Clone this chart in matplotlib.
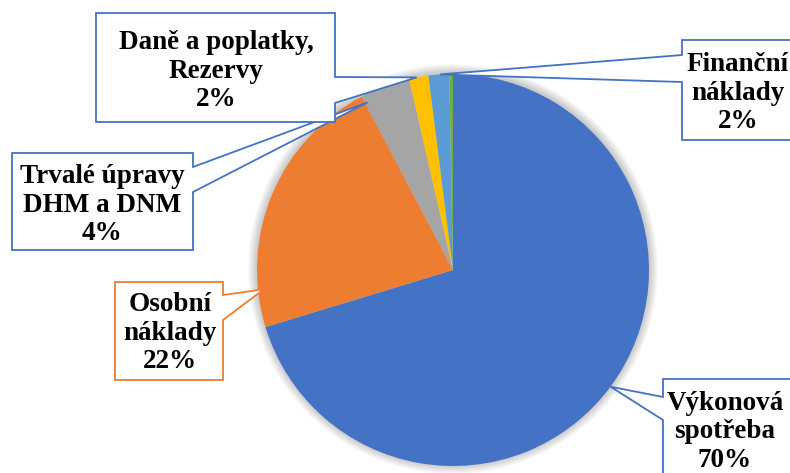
import numpy as np
import matplotlib.pyplot as plt
from matplotlib.patches import Polygon, Circle

# slice data (clockwise from 12 o'clock)
categories = ['Výkonová\nspotřeba', 'Osobní\nnáklady', 'Trvalé úpravy\nDHM a DNM',
              'Daně a poplatky,\nRezervy', 'Finanční\nnáklady', 'Ostatní']
values = [70.3, 22.0, 4.1, 1.6, 1.7, 0.3]
colors = ['#4472C4', '#ED7D31', '#A5A5A5', '#FFC000', '#5B9BD5', '#70AD47']

W, H = 790, 473
cx, cy, R = 453, 270, 196  # pie centre / radius in pixels (top-left origin)


def fy(y):
    return H - y


fig = plt.figure(figsize=(W / 100, H / 100), dpi=100)
ax = fig.add_axes([0, 0, 1, 1])

# soft shadow around the pie
for k in range(1, 10):
    ax.add_patch(Circle((cx, fy(cy) + 1), R + k, facecolor='black',
                        alpha=0.025, edgecolor='none', zorder=0))

wedges, _ = ax.pie(values, colors=colors, startangle=90, counterclock=False,
                   radius=R, center=(cx, fy(cy)), frame=True,
                   wedgeprops=dict(linewidth=0, zorder=1))

# callouts: box (x0, y0, x1, y1), side of pointer, pointer base (ya, yb),
# position along slice (fraction), radius factor, text centre, edge colour
callouts = [
    (0, (663, 379, 800, 480), 'left', (397, 420), 0.5, 1.0, (725, 432), '#4472C4'),
    (1, (115, 282, 223, 380), 'right', (295, 320), 0.14, 0.97, (170, 333), '#ED7D31'),
    (2, (12, 153, 193, 250), 'right', (167, 192), 0.05, 0.96, (102, 205), '#4472C4'),
    (3, (96, 13, 335, 122), 'right', (77, 103), 0.4, 1.0, (216, 71), '#4472C4'),
    (4, (682, 40, 800, 140), 'left', (55, 82), 0.55, 1.0, (738, 93), '#4472C4'),
]

for i, box, side, (ya, yb), frac, rf, (tx, ty), ec in callouts:
    w = wedges[i]
    ang = np.radians(w.theta2 - frac * (w.theta2 - w.theta1))
    tip = (cx + rf * R * np.cos(ang), fy(cy) + rf * R * np.sin(ang))
    x0, y0, x1, y1 = box
    if side == 'right':
        pts = [(x0, fy(y0)), (x1, fy(y0)), (x1, fy(ya)), tip, (x1, fy(yb)),
               (x1, fy(y1)), (x0, fy(y1))]
    else:
        pts = [(x0, fy(y0)), (x1, fy(y0)), (x1, fy(y1)), (x0, fy(y1)),
               (x0, fy(yb)), tip, (x0, fy(ya))]
    ax.add_patch(Polygon(pts, closed=True, facecolor='white', edgecolor=ec,
                         linewidth=1.3, zorder=3))
    pct = f'{round(values[i] / sum(values) * 100):.0f}%'
    ax.text(tx, fy(ty), f'{categories[i]}\n{pct}', ha='center', va='center',
            fontsize=19.5, fontweight='bold', family='Liberation Serif',
            linespacing=1.2, zorder=4)

ax.set_xlim(0, W)
ax.set_ylim(0, H)
ax.set_aspect('equal')
ax.axis('off')

fig.savefig('out.png', dpi=100)
